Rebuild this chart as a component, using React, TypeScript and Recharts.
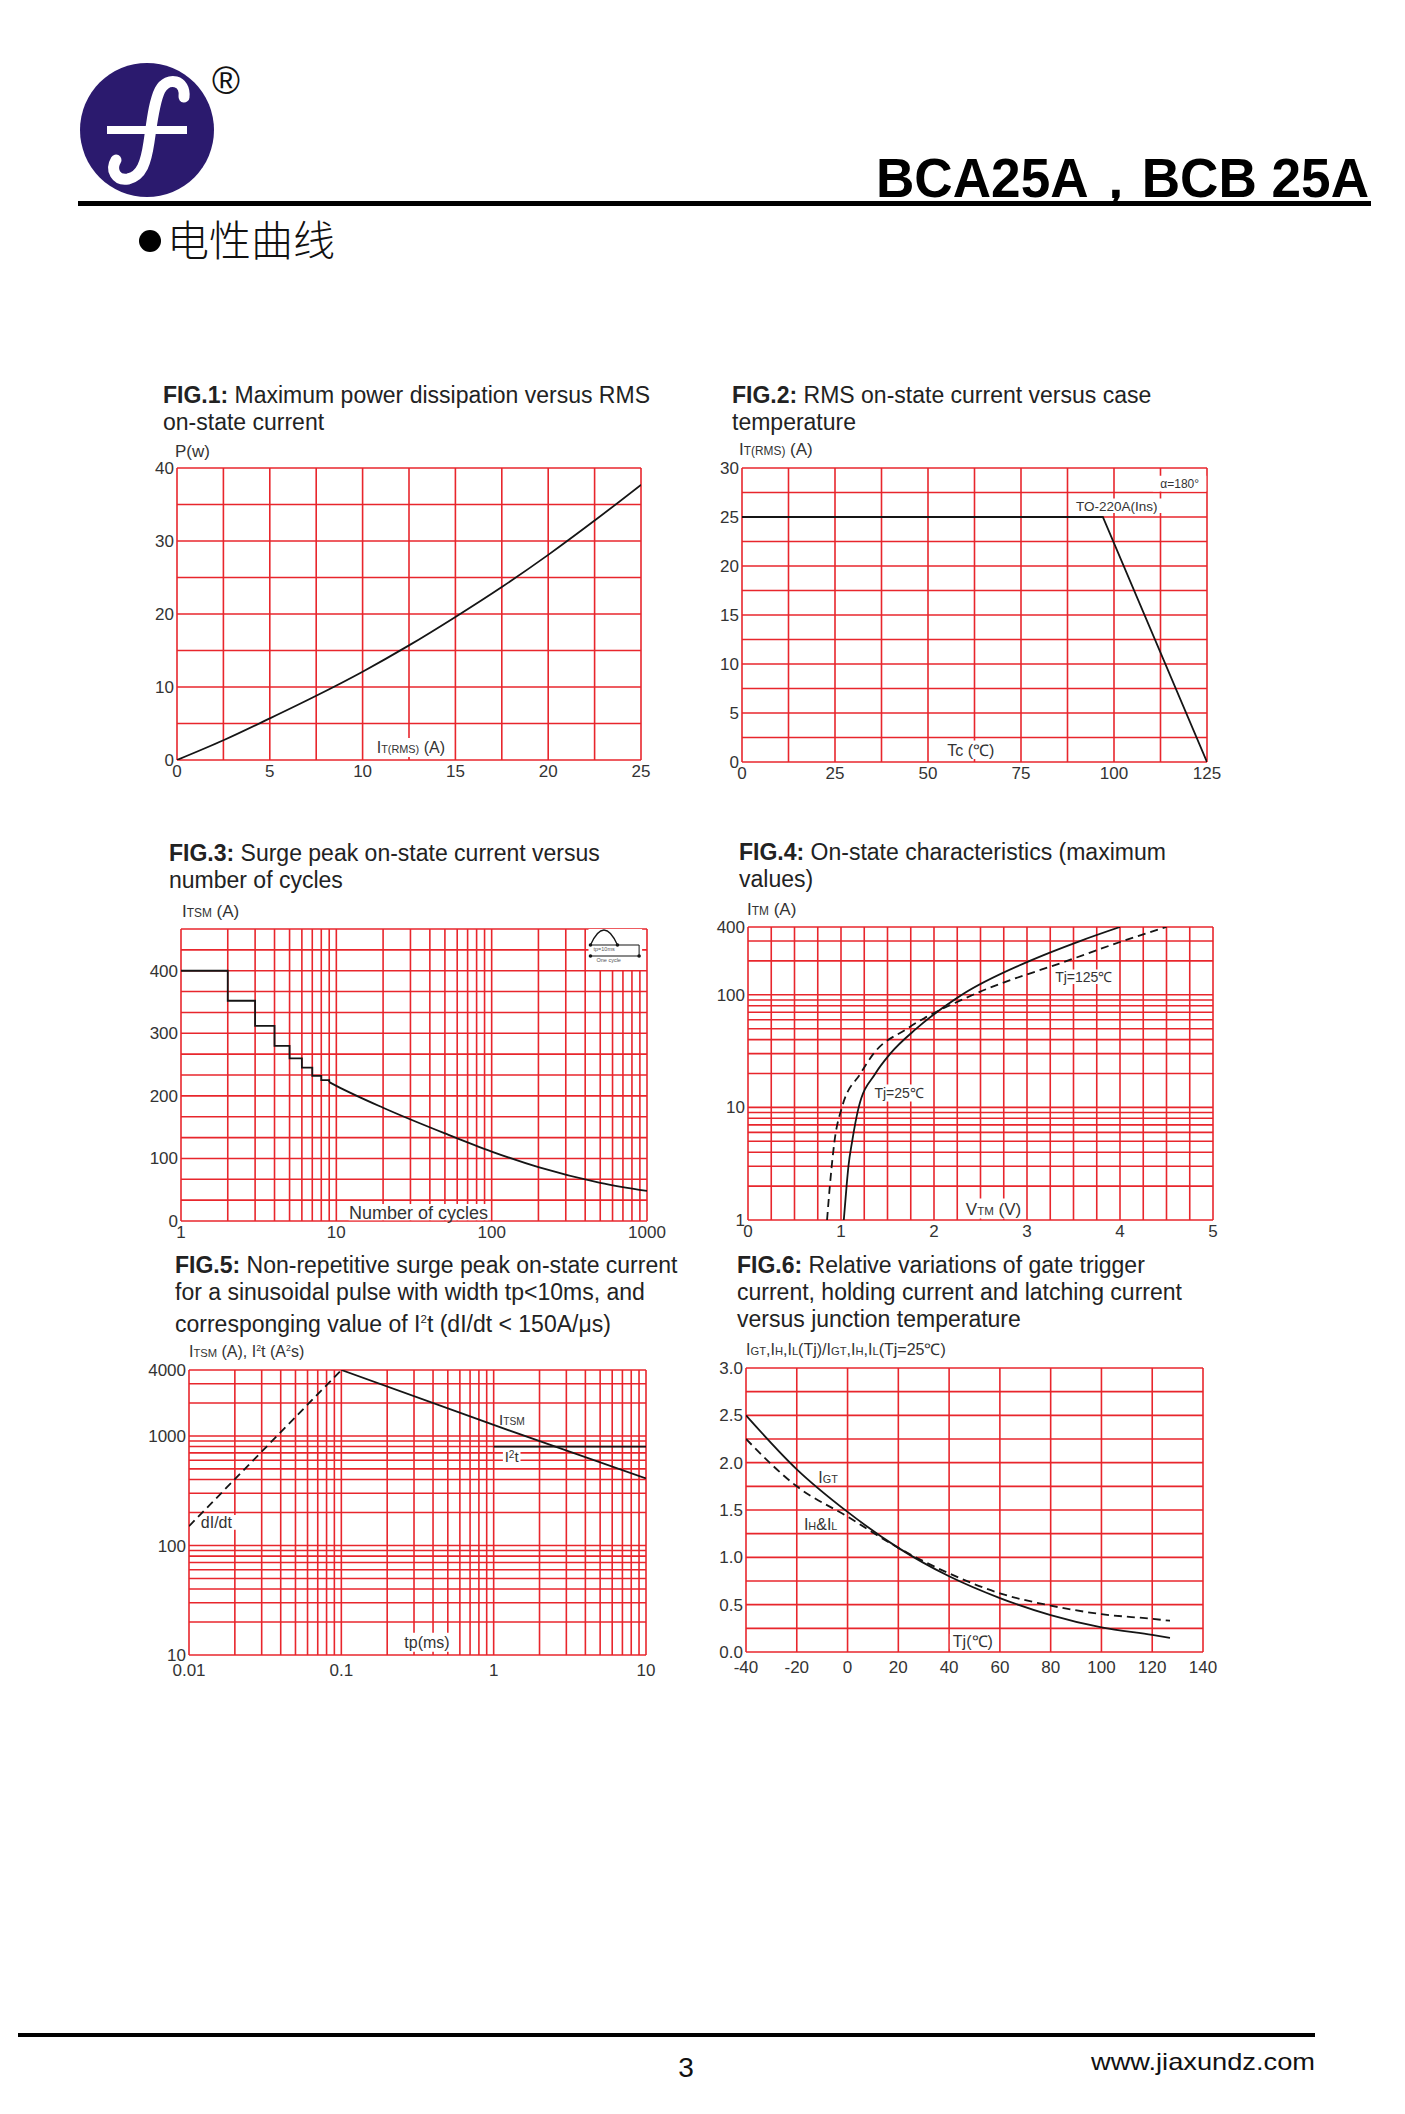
import React from "react";
import { LineChart, Line, XAxis, YAxis, CartesianGrid, ReferenceArea } from "recharts";

const FONT = "'Liberation Sans', Arial, sans-serif";
const GRID = "#e8262c";
const INK = "#151515";

// FIG.1 - power dissipation vs RMS current
const fig1Current = [0, 2.5, 5, 7.5, 10, 12.5, 15, 17.5, 20, 22.5, 25];
const fig1Power = [0, 2.7, 5.7, 8.8, 12.1, 15.7, 19.6, 23.7, 28.1, 32.8, 37.7];
const fig1XTicks = [0, 2.5, 5, 7.5, 10, 12.5, 15, 17.5, 20, 22.5, 25];
const fig1XLabels = [0, 5, 10, 15, 20, 25];
const fig1YTicks = [0, 5, 10, 15, 20, 25, 30, 35, 40];
const fig1YLabels = [0, 10, 20, 30, 40];

// FIG.2 - RMS current vs case temperature
const fig2Temp = [0, 97, 125];
const fig2Current = [25, 25, 0];
const fig2XTicks = [0, 12.5, 25, 37.5, 50, 62.5, 75, 87.5, 100, 112.5, 125];
const fig2XLabels = [0, 25, 50, 75, 100, 125];
const fig2YTicks = [0, 2.5, 5, 7.5, 10, 12.5, 15, 17.5, 20, 22.5, 25, 27.5, 30];
const fig2YLabels = [0, 5, 10, 15, 20, 25, 30];

// FIG.3 - surge current vs number of cycles
const fig3StepCycles = [1, 2, 3, 4, 5, 6, 7, 8, 9];
const fig3StepCurrent = [400, 352, 312, 280, 260, 245, 232, 225, 222];
const fig3CurveCycles = [9, 10, 20, 50, 100, 200, 500, 1000];
const fig3CurveCurrent = [222, 216, 181, 140, 111, 86, 61, 48];
const fig3XTicks = [1, 2, 3, 4, 5, 6, 7, 8, 9, 10, 20, 30, 40, 50, 60, 70, 80, 90, 100, 200, 300, 400, 500, 600, 700, 800, 900, 1000];
const fig3XLabels = [1, 10, 100, 1000];
const fig3YTicks = [0, 33.3, 66.7, 100, 133.3, 166.7, 200, 233.3, 266.7, 300, 333.3, 366.7, 400, 433.3, 466.7];
const fig3YLabels = [0, 100, 200, 300, 400];

// FIG.4 - on-state characteristics
const fig4Current = [1, 2, 3, 5, 10, 20, 30, 50, 100, 200, 300, 400];
const fig4V25 = [1.03, 1.06, 1.08, 1.12, 1.19, 1.37, 1.53, 1.81, 2.3, 3.03, 3.57, 4.0];
const fig4V125 = [0.85, 0.88, 0.9, 0.93, 1.01, 1.21, 1.35, 1.71, 2.42, 3.43, 4.03, 4.5];
const fig4XTicks = [0, 0.25, 0.5, 0.75, 1, 1.25, 1.5, 1.75, 2, 2.25, 2.5, 2.75, 3, 3.25, 3.5, 3.75, 4, 4.25, 4.5, 4.75, 5];
const fig4XLabels = [0, 1, 2, 3, 4, 5];
const fig4YTicks = [1, 2, 3, 4, 5, 6, 7, 8, 9, 10, 20, 30, 40, 50, 60, 70, 80, 90, 100, 200, 300, 400];
const fig4YLabels = [1, 10, 100, 400];

// FIG.5 - non-repetitive surge current, I2t, dI/dt
const fig5ItsmTp = [0.1, 1, 10];
const fig5Itsm = [4000, 1260, 410];
const fig5I2tTp = [1, 10];
const fig5I2t = [800, 800];
const fig5DidtTp = [0.01, 0.1];
const fig5Didt = [150, 4000];
const fig5XTicks = [0.01, 0.02, 0.03, 0.04, 0.05, 0.06, 0.07, 0.08, 0.09, 0.1, 0.2, 0.3, 0.4, 0.5, 0.6, 0.7, 0.8, 0.9, 1, 2, 3, 4, 5, 6, 7, 8, 9, 10];
const fig5XLabels = [0.01, 0.1, 1, 10];
const fig5YTicks = [10, 20, 30, 40, 50, 60, 70, 80, 90, 100, 200, 300, 400, 500, 600, 700, 800, 900, 1000, 2000, 3000, 4000];
const fig5YLabels = [10, 100, 1000, 4000];

// FIG.6 - gate trigger / holding / latching vs Tj
const fig6Temp = [-40, -20, 0, 20, 40, 60, 80, 100, 120, 127];
const fig6Igt = [2.5, 1.93, 1.48, 1.1, 0.8, 0.57, 0.39, 0.26, 0.18, 0.15];
const fig6IhIl = [2.25, 1.75, 1.43, 1.1, 0.83, 0.62, 0.49, 0.4, 0.35, 0.33];
const fig6XTicks = [-40, -20, 0, 20, 40, 60, 80, 100, 120, 140];
const fig6YTicks = [0, 0.25, 0.5, 0.75, 1, 1.25, 1.5, 1.75, 2, 2.25, 2.5, 2.75, 3];
const fig6YLabels = [0, 0.5, 1, 1.5, 2, 2.5, 3];

const pts = (xs: number[], ys: number[]) => xs.map((x, i) => ({ x, y: ys[i] }));
const only = (labels: number[], digits?: number) => (v: number) =>
  labels.includes(v) ? (digits != null ? v.toFixed(digits) : String(v)) : "";

const YW = 60;
const XH = 34;
const MT = 10;
const MR = 30;
const TICK = { fontSize: 17, fill: "#333", fontFamily: FONT };

type Rect = { l: number; t: number; r: number; b: number };

function Panel({ rect, children }: { rect: Rect; children: React.ReactNode }) {
  const w = rect.r - rect.l + YW + MR;
  const h = rect.b - rect.t + MT + XH;
  return (
    <div style={{ position: "absolute", left: rect.l - YW, top: rect.t - MT }}>
      <LineChart width={w} height={h} margin={{ top: MT, right: MR, left: 0, bottom: 0 }}>
        {children}
      </LineChart>
    </div>
  );
}

const xAxis = (domain: number[], ticks: number[], fmt: any, scale: any = "linear", gap = 5) => (
  <XAxis
    type="number"
    dataKey="x"
    scale={scale}
    domain={domain}
    ticks={ticks}
    interval={0}
    tickFormatter={fmt}
    tickLine={false}
    axisLine={false}
    tickSize={0}
    tickMargin={gap}
    tick={TICK}
    height={XH}
    allowDataOverflow
  />
);

const yAxis = (domain: number[], ticks: number[], fmt: any, scale: any = "linear") => (
  <YAxis
    type="number"
    dataKey="y"
    scale={scale}
    domain={domain}
    ticks={ticks}
    interval={0}
    tickFormatter={fmt}
    tickLine={false}
    axisLine={false}
    tickSize={0}
    tickMargin={3}
    tick={TICK}
    width={YW}
    allowDataOverflow
  />
);

type Part = { t: string; s?: "sub" | "sup" };

function BoxText(props: any) {
  const { viewBox, parts, size = 14 } = props;
  if (!viewBox) return null;
  const cx = viewBox.x + viewBox.width / 2;
  const cy = viewBox.y + viewBox.height / 2;
  return (
    <text x={cx} y={cy + size * 0.36} textAnchor="middle" fontSize={size} fill="#333" fontFamily={FONT}>
      {parts.map((p: Part, i: number) => (
        <tspan key={i} fontSize={p.s ? size * 0.68 : size} baselineShift={p.s === "sup" ? "45%" : undefined}>
          {p.t}
        </tspan>
      ))}
    </text>
  );
}

// little half-sine pulse sketch in the corner of FIG.3
function CycleInset(props: any) {
  const { viewBox } = props;
  if (!viewBox) return null;
  const { x, y, width: w } = viewBox;
  const ax = x + 2;
  const bx = x + 29;
  const ex = x + w - 3;
  const base = y + 16;
  return (
    <g>
      <path d={`M${ax},${base} Q${(ax + bx) / 2},${y - 14} ${bx},${base}`} stroke={INK} strokeWidth={1.3} fill="none" />
      <line x1={ax} y1={base} x2={ex} y2={base} stroke={INK} strokeWidth={1} />
      <line x1={ax} y1={y + 27} x2={ex} y2={y + 27} stroke={INK} strokeWidth={1} />
      <line x1={ex} y1={base} x2={ex} y2={y + 27} stroke={INK} strokeWidth={1} />
      {[ [ax, base], [bx, base], [ax, y + 27], [ex, y + 27] ].map(([px, py], i) => (
        <circle key={i} cx={px} cy={py} r={1.8} fill={INK} />
      ))}
      <text x={x + 5} y={y + 22} fontSize={5.5} fill="#555" fontFamily={FONT}>tp=10ms</text>
      <text x={x + 8} y={y + 33} fontSize={5.5} fill="#555" fontFamily={FONT}>One cycle</text>
    </g>
  );
}

const box = (x1: number, x2: number, y1: number, y2: number, parts: Part[], size: number) => (
  <ReferenceArea
    x1={x1}
    x2={x2}
    y1={y1}
    y2={y2}
    fill="#ffffff"
    fillOpacity={1}
    stroke="none"
    label={<BoxText parts={parts} size={size} />}
  />
);

function Title({ left, top, bold, lines }: { left: number; top: number; bold: string; lines: React.ReactNode[] }) {
  return (
    <div
      style={{
        position: "absolute",
        left,
        top,
        fontFamily: FONT,
        fontSize: 23,
        lineHeight: "27px",
        color: "#222",
        whiteSpace: "nowrap",
      }}
    >
      <b>{bold}</b>
      {lines.map((l, i) => (
        <React.Fragment key={i}>
          {i > 0 && <br />}
          {l}
        </React.Fragment>
      ))}
    </div>
  );
}

function AxisTitle({ left, top, size = 17, children }: { left: number; top: number; size?: number; children: React.ReactNode }) {
  return (
    <div
      style={{
        position: "absolute",
        left,
        top,
        fontFamily: FONT,
        fontSize: size,
        lineHeight: "20px",
        color: "#333",
        whiteSpace: "nowrap",
      }}
    >
      {children}
    </div>
  );
}

const Sm = ({ children }: { children: React.ReactNode }) => <span style={{ fontSize: "0.7em" }}>{children}</span>;

function Header() {
  return (
    <svg width={1405} height={270} style={{ position: "absolute", left: 0, top: 0 }}>
      <ellipse cx={147} cy={130} rx={67} ry={67} fill="#2b1a6e" />
      <path
        d="M184,97 C186,80 168,76 160,90 C154,102 152,122 149,142 C146,162 142,176 128,179 C116,181 110,170 116,160"
        stroke="#fff"
        strokeWidth={11}
        fill="none"
        strokeLinecap="round"
      />
      <rect x={107} y={126} width={80} height={8} fill="#fff" />
      <text x={226} y={94} textAnchor="middle" fontSize={38} fontFamily={FONT} fill="#111">®</text>
      <text
        x={876}
        y={197}
        fontSize={56}
        fontWeight="bold"
        fontFamily={FONT}
        fill="#000"
        textLength={493}
        lengthAdjust="spacingAndGlyphs"
      >
        BCA25A，BCB 25A
      </text>
      <rect x={78} y={201} width={1293} height={5} fill="#000" />
      <circle cx={150} cy={241} r={11} fill="#000" />
      <text
        x={167}
        y={256}
        fontSize={42}
        fontWeight={300}
        fontFamily="'Noto Sans CJK SC', sans-serif"
        fill="#111"
        textLength={168}
        lengthAdjust="spacingAndGlyphs"
      >
        电性曲线
      </text>
    </svg>
  );
}

function Footer() {
  return (
    <svg width={1405} height={90} style={{ position: "absolute", left: 0, top: 2020 }}>
      <rect x={18} y={13} width={1297} height={4} fill="#000" />
      <text x={686} y={57} textAnchor="middle" fontSize={28} fontFamily={FONT} fill="#111">3</text>
      <text
        x={1315}
        y={50}
        textAnchor="end"
        fontSize={24}
        fontFamily={FONT}
        fill="#111"
        textLength={224}
        lengthAdjust="spacingAndGlyphs"
      >
        www.jiaxundz.com
      </text>
    </svg>
  );
}

const FIG1: Rect = { l: 177, t: 468, r: 641, b: 760 };
const FIG2: Rect = { l: 742, t: 468, r: 1207, b: 762 };
const FIG3: Rect = { l: 181, t: 929, r: 647, b: 1221 };
const FIG4: Rect = { l: 748, t: 927, r: 1213, b: 1220 };
const FIG5: Rect = { l: 189, t: 1370, r: 646, b: 1655 };
const FIG6: Rect = { l: 746, t: 1368, r: 1203, b: 1652 };

const solid = { stroke: INK, strokeWidth: 1.8, dot: false, isAnimationActive: false } as const;
const dashed = { stroke: INK, strokeWidth: 1.8, strokeDasharray: "8 5", dot: false, isAnimationActive: false } as const;

export default function App() {
  return (
    <div style={{ position: "absolute", left: 0, top: 0, width: 1405, height: 2114, background: "#fff" }}>
      <Header />

      {/* FIG.1 */}
      <Title left={163} top={382} bold="FIG.1:" lines={[" Maximum power dissipation versus RMS", "on-state current"]} />
      <AxisTitle left={175} top={442}>P(w)</AxisTitle>
      <Panel rect={FIG1}>
        <CartesianGrid stroke={GRID} strokeWidth={1.6} />
        {xAxis([0, 25], fig1XTicks, only(fig1XLabels))}
        {yAxis([0, 40], fig1YTicks, only(fig1YLabels))}
        {box(10.4, 14.8, 0.4, 3.0, [{ t: "I" }, { t: "T(RMS)", s: "sub" }, { t: " (A)" }], 16)}
        <Line data={pts(fig1Current, fig1Power)} dataKey="y" type="monotone" {...solid} />
      </Panel>

      {/* FIG.2 */}
      <Title left={732} top={382} bold="FIG.2:" lines={[" RMS on-state current versus case", "temperature"]} />
      <AxisTitle left={739} top={440}>
        I<Sm>T(RMS)</Sm> (A)
      </AxisTitle>
      <Panel rect={FIG2}>
        <CartesianGrid stroke={GRID} strokeWidth={1.6} />
        {xAxis([0, 125], fig2XTicks, only(fig2XLabels))}
        {yAxis([0, 30], fig2YTicks, only(fig2YLabels))}
        {box(53, 70, 0.3, 2.2, [{ t: "Tc (℃)" }], 16)}
        {box(88.5, 113, 25.4, 26.9, [{ t: "TO-220A(Ins)" }], 13.5)}
        {box(110.5, 124.8, 27.6, 29.2, [{ t: "α=180°" }], 12)}
        <Line data={pts(fig2Temp, fig2Current)} dataKey="y" type="linear" {...solid} />
      </Panel>

      {/* FIG.3 */}
      <Title left={169} top={840} bold="FIG.3:" lines={[" Surge peak on-state current versus", "number of cycles"]} />
      <AxisTitle left={182} top={902}>
        I<Sm>TSM</Sm> (A)
      </AxisTitle>
      <Panel rect={FIG3}>
        <CartesianGrid stroke={GRID} strokeWidth={1.6} />
        {xAxis([1, 1000], fig3XTicks, only(fig3XLabels), "log")}
        {yAxis([0, 466.7], fig3YTicks, only(fig3YLabels))}
        {box(12, 95, 1, 27, [{ t: "Number of cycles" }], 18)}
        <ReferenceArea x1={420} x2={930} y1={401} y2={466.7} fill="#fff" fillOpacity={1} stroke="none" label={<CycleInset />} />
        <Line data={pts(fig3StepCycles, fig3StepCurrent)} dataKey="y" type="stepAfter" {...solid} />
        <Line data={pts(fig3CurveCycles, fig3CurveCurrent)} dataKey="y" type="monotone" {...solid} />
      </Panel>

      {/* FIG.4 */}
      <Title left={739} top={839} bold="FIG.4:" lines={[" On-state characteristics (maximum", "values)"]} />
      <AxisTitle left={747} top={900}>
        I<Sm>TM</Sm> (A)
      </AxisTitle>
      <Panel rect={FIG4}>
        <CartesianGrid stroke={GRID} strokeWidth={1.6} />
        {xAxis([0, 5], fig4XTicks, only(fig4XLabels))}
        {yAxis([1, 400], fig4YTicks, only(fig4YLabels), "log")}
        {box(2.3, 2.98, 1.03, 1.55, [{ t: "V" }, { t: "TM", s: "sub" }, { t: " (V)" }], 17)}
        {box(1.33, 1.92, 11.3, 16, [{ t: "Tj=25℃" }], 14)}
        {box(3.28, 3.94, 125, 168, [{ t: "Tj=125℃" }], 14)}
        <Line data={pts(fig4V25, fig4Current)} dataKey="y" type="monotone" {...solid} />
        <Line data={pts(fig4V125, fig4Current)} dataKey="y" type="monotone" {...dashed} />
      </Panel>

      {/* FIG.5 */}
      <Title
        left={175}
        top={1252}
        bold="FIG.5:"
        lines={[
          " Non-repetitive surge peak on-state current",
          "for a sinusoidal pulse with width tp<10ms, and",
          <>
            corresponging value of I<sup style={{ fontSize: "0.5em" }}>2</sup>t (dI/dt &lt; 150A/μs)
          </>,
        ]}
      />
      <AxisTitle left={189} top={1338} size={16}>
        I<Sm>TSM</Sm> (A), I<sup style={{ fontSize: "0.55em" }}>2</sup>t (A<sup style={{ fontSize: "0.55em" }}>2</sup>s)
      </AxisTitle>
      <Panel rect={FIG5}>
        <CartesianGrid stroke={GRID} strokeWidth={1.6} />
        {xAxis([0.01, 10], fig5XTicks, only(fig5XLabels), "log", 9)}
        {yAxis([10, 4000], fig5YTicks, only(fig5YLabels), "log")}
        {box(1.05, 1.65, 1230, 1620, [{ t: "I" }, { t: "TSM", s: "sub" }], 15)}
        {box(1.15, 1.5, 560, 750, [{ t: "I" }, { t: "2", s: "sup" }, { t: "t" }], 15)}
        {box(0.0109, 0.021, 139, 190, [{ t: "dI/dt" }], 16)}
        {box(0.23, 0.58, 10.7, 16, [{ t: "tp(ms)" }], 16)}
        <Line data={pts(fig5ItsmTp, fig5Itsm)} dataKey="y" type="linear" {...solid} />
        <Line data={pts(fig5I2tTp, fig5I2t)} dataKey="y" type="linear" {...solid} />
        <Line data={pts(fig5DidtTp, fig5Didt)} dataKey="y" type="linear" {...dashed} />
      </Panel>

      {/* FIG.6 */}
      <Title
        left={737}
        top={1252}
        bold="FIG.6:"
        lines={[" Relative variations of gate trigger", "current, holding current and latching current", "versus junction temperature"]}
      />
      <AxisTitle left={746} top={1340} size={16}>
        I<Sm>GT</Sm>,I<Sm>H</Sm>,I<Sm>L</Sm>(Tj)/I<Sm>GT</Sm>,I<Sm>H</Sm>,I<Sm>L</Sm>(Tj=25℃)
      </AxisTitle>
      <Panel rect={FIG6}>
        <CartesianGrid stroke={GRID} strokeWidth={1.6} />
        {xAxis([-40, 140], fig6XTicks, (v: number) => String(v), "linear", 9)}
        {yAxis([0, 3], fig6YTicks, only(fig6YLabels, 1))}
        {box(-12.4, -3, 1.78, 1.92, [{ t: "I" }, { t: "GT", s: "sub" }], 16)}
        {box(-18.5, -2.7, 1.27, 1.42, [{ t: "I" }, { t: "H", s: "sub" }, { t: "&I" }, { t: "L", s: "sub" }], 16)}
        {box(40.3, 58.4, 0.035, 0.19, [{ t: "Tj(℃)" }], 16)}
        <Line data={pts(fig6Temp, fig6Igt)} dataKey="y" type="monotone" {...solid} />
        <Line data={pts(fig6Temp, fig6IhIl)} dataKey="y" type="monotone" {...dashed} />
      </Panel>

      <Footer />
    </div>
  );
}
